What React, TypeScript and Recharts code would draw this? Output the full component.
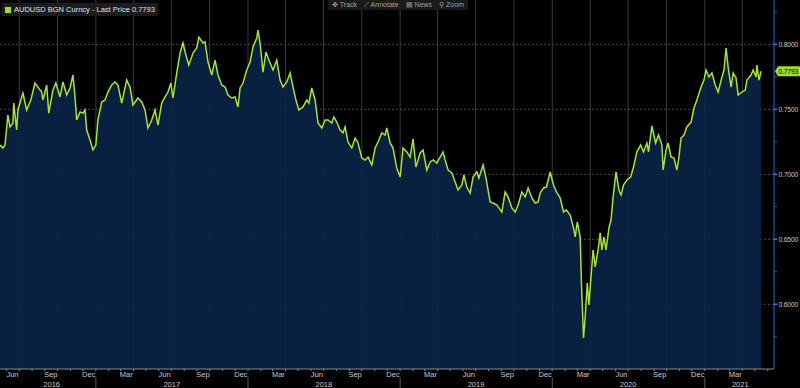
import { AreaChart, Area, XAxis, YAxis, CartesianGrid } from 'recharts';

// AUDUSD BGN Curncy, last price (month-day, price) by year
const P2016: [string, number][] = [
  ['05-16', 0.7225], ['05-23', 0.7202], ['05-28', 0.7225], ['06-04', 0.7456], ['06-09', 0.7364],
  ['06-16', 0.7395], ['06-18', 0.7548], ['06-25', 0.7341], ['06-28', 0.7495], ['07-07', 0.7595],
  ['07-10', 0.7625], ['07-19', 0.7495], ['07-29', 0.7572], ['08-08', 0.7702], ['08-15', 0.7671],
  ['08-24', 0.7633], ['08-27', 0.7572], ['09-05', 0.7687], ['09-10', 0.7471], ['09-20', 0.7648],
  ['09-27', 0.7702], ['10-07', 0.7595], ['10-14', 0.7710], ['10-23', 0.7610], ['10-31', 0.7664],
  ['11-07', 0.7764], ['11-12', 0.7595], ['11-16', 0.7418], ['11-24', 0.7479], ['12-01', 0.7471],
  ['12-06', 0.7495], ['12-10', 0.7341], ['12-18', 0.7264], ['12-25', 0.7187],
];
const P2017: [string, number][] = [
  ['01-01', 0.7225], ['01-06', 0.7418], ['01-15', 0.7556], ['01-23', 0.7572], ['01-30', 0.7633],
  ['02-08', 0.7687], ['02-16', 0.7710], ['02-23', 0.7687], ['03-04', 0.7548], ['03-16', 0.7725],
  ['03-24', 0.7671], ['03-31', 0.7533], ['04-12', 0.7587], ['04-21', 0.7556], ['04-29', 0.7495],
  ['05-06', 0.7356], ['05-15', 0.7418], ['05-23', 0.7495], ['05-30', 0.7379], ['06-08', 0.7548],
  ['06-16', 0.7595], ['06-23', 0.7633], ['06-30', 0.7702], ['07-05', 0.7587], ['07-14', 0.7779],
  ['07-22', 0.7933], ['07-29', 0.8010], ['08-05', 0.7918], ['08-12', 0.7841], ['08-22', 0.7933],
  ['08-31', 0.7972], ['09-05', 0.8056], ['09-15', 0.8010], ['09-20', 0.8018], ['09-27', 0.7864],
  ['10-06', 0.7764], ['10-14', 0.7879], ['10-21', 0.7764], ['10-30', 0.7687], ['11-07', 0.7671],
  ['11-14', 0.7610], ['11-23', 0.7587], ['12-01', 0.7595], ['12-08', 0.7518], ['12-13', 0.7664],
  ['12-20', 0.7702], ['12-29', 0.7802],
];
const P2018: [string, number][] = [
  ['01-06', 0.7864], ['01-13', 0.7979], ['01-22', 0.8049], ['01-25', 0.8110], ['01-30', 0.8010],
  ['02-06', 0.7786], ['02-13', 0.7941], ['02-20', 0.7879], ['03-02', 0.7802], ['03-11', 0.7879],
  ['03-19', 0.7725], ['03-26', 0.7671], ['04-04', 0.7710], ['04-12', 0.7779], ['04-19', 0.7671],
  ['04-26', 0.7572], ['05-03', 0.7495], ['05-13', 0.7518], ['05-22', 0.7572], ['05-27', 0.7548],
  ['06-03', 0.7664], ['06-11', 0.7572], ['06-18', 0.7395], ['06-27', 0.7356], ['07-05', 0.7418],
  ['07-12', 0.7418], ['07-21', 0.7395], ['07-26', 0.7441], ['08-02', 0.7402], ['08-10', 0.7341],
  ['08-17', 0.7318], ['08-22', 0.7364], ['08-29', 0.7248], ['09-07', 0.7202], ['09-15', 0.7279],
  ['09-22', 0.7241], ['10-01', 0.7125], ['10-09', 0.7110], ['10-16', 0.7133], ['10-25', 0.7072],
  ['11-02', 0.7202], ['11-09', 0.7248], ['11-18', 0.7318], ['11-26', 0.7302], ['11-30', 0.7356],
  ['12-08', 0.7241], ['12-15', 0.7202], ['12-24', 0.7048],
];
const P2019: [string, number][] = [
  ['01-01', 0.6979], ['01-08', 0.7202], ['01-17', 0.7172], ['01-25', 0.7133], ['02-01', 0.7272],
  ['02-08', 0.7056], ['02-18', 0.7164], ['02-25', 0.7187], ['03-06', 0.7033], ['03-14', 0.7095],
  ['03-21', 0.7110], ['03-30', 0.7087], ['04-07', 0.7133], ['04-14', 0.7172], ['04-19', 0.7110],
  ['04-26', 0.7033], ['05-05', 0.7010], ['05-13', 0.6941], ['05-20', 0.6879], ['05-29', 0.6918],
  ['06-03', 0.6995], ['06-10', 0.6902], ['06-18', 0.6856], ['06-25', 0.6979], ['07-04', 0.7018],
  ['07-09', 0.6971], ['07-19', 0.7072], ['07-26', 0.6971], ['08-05', 0.6787], ['08-12', 0.6779],
  ['08-21', 0.6764], ['09-02', 0.6710], ['09-10', 0.6864], ['09-17', 0.6826], ['09-26', 0.6741],
  ['10-04', 0.6710], ['10-11', 0.6764], ['10-20', 0.6864], ['10-28', 0.6826], ['11-04', 0.6895],
  ['11-13', 0.6818], ['11-21', 0.6779], ['11-28', 0.6787], ['12-03', 0.6856], ['12-11', 0.6895],
  ['12-18', 0.6902], ['12-27', 0.7018],
];
const P2020: [string, number][] = [
  ['01-04', 0.6918], ['01-11', 0.6864], ['01-20', 0.6818], ['01-28', 0.6710], ['02-04', 0.6725],
  ['02-13', 0.6687], ['02-21', 0.6587], ['02-25', 0.6518], ['03-01', 0.6633], ['03-08', 0.6518],
  ['03-11', 0.6164], ['03-16', 0.5741], ['03-20', 0.5902], ['03-25', 0.6164], ['03-29', 0.5995],
  ['04-03', 0.6210], ['04-08', 0.6418], ['04-13', 0.6287], ['04-20', 0.6418], ['04-25', 0.6549],
  ['04-29', 0.6418], ['05-04', 0.6518], ['05-09', 0.6418], ['05-16', 0.6587], ['05-21', 0.6648],
  ['05-26', 0.6826], ['06-02', 0.7018], ['06-09', 0.6879], ['06-14', 0.6841], ['06-20', 0.6918],
  ['06-28', 0.6956], ['07-07', 0.6979], ['07-14', 0.7056], ['07-22', 0.7172], ['07-31', 0.7225],
  ['08-07', 0.7172], ['08-15', 0.7241], ['08-19', 0.7172], ['08-27', 0.7372], ['09-05', 0.7241],
  ['09-12', 0.7302], ['09-20', 0.7225], ['09-23', 0.7033], ['09-30', 0.7187], ['10-05', 0.7241],
  ['10-12', 0.7133], ['10-19', 0.7125], ['10-26', 0.7033], ['10-31', 0.7133], ['11-05', 0.7279],
  ['11-12', 0.7302], ['11-19', 0.7364], ['11-29', 0.7402], ['12-06', 0.7510], ['12-13', 0.7572],
  ['12-23', 0.7671], ['12-30', 0.7725],
];
const P2021: [string, number][] = [
  ['01-04', 0.7802], ['01-11', 0.7748], ['01-18', 0.7779], ['01-26', 0.7687], ['02-02', 0.7633],
  ['02-11', 0.7748], ['02-16', 0.7802], ['02-21', 0.7972], ['02-26', 0.7825], ['03-05', 0.7671],
  ['03-10', 0.7779], ['03-17', 0.7741], ['03-22', 0.7610], ['03-31', 0.7633], ['04-08', 0.7648],
  ['04-12', 0.7725], ['04-22', 0.7764], ['04-27', 0.7802], ['05-04', 0.7748], ['05-06', 0.7841],
  ['05-11', 0.7725], ['05-16', 0.7793],
];
const YEARS: [number, [string, number][]][] = [
  [2016, P2016], [2017, P2017], [2018, P2018], [2019, P2019], [2020, P2020], [2021, P2021],
];

const LAST_PRICE = 0.7793;
const X_RANGE = ['2016-05-16', '2021-06-16'];
const Y_RANGE = [0.5502, 0.8341];
const Y_TICKS = [0.575, 0.6, 0.625, 0.65, 0.675, 0.7, 0.725, 0.75, 0.775, 0.8, 0.825];
const Y_LABELED = [0.6, 0.65, 0.7, 0.75, 0.8];
const MONTH_NAMES = ['Jan', 'Feb', 'Mar', 'Apr', 'May', 'Jun', 'Jul', 'Aug', 'Sep', 'Oct', 'Nov', 'Dec'];
const QUARTER_LABELS = [
  '2016-06-15', '2016-09-15', '2016-12-15', '2017-03-15', '2017-06-15', '2017-09-15', '2017-12-15',
  '2018-03-15', '2018-06-15', '2018-09-15', '2018-12-15', '2019-03-15', '2019-06-15', '2019-09-15',
  '2019-12-15', '2020-03-15', '2020-06-15', '2020-09-15', '2020-12-15', '2021-03-15',
];
const GRID_DATES = [
  '2016-07-01', '2016-10-01', '2017-01-01', '2017-04-01', '2017-07-01', '2017-10-01', '2018-01-01',
  '2018-04-01', '2018-07-01', '2018-10-01', '2019-01-01', '2019-04-01', '2019-07-01', '2019-10-01',
  '2020-01-01', '2020-04-01', '2020-07-01', '2020-10-01', '2021-01-01', '2021-04-01',
];
const YEAR_LABELS: [string, string][] = [
  ['2016', '2016-09-17'], ['2017', '2017-07-02'], ['2018', '2018-07-02'],
  ['2019', '2019-07-02'], ['2020', '2020-07-01'], ['2021', '2021-03-27'],
];
const YEAR_BREAKS = ['2017-01-01', '2018-01-01', '2019-01-01', '2020-01-01', '2021-01-01'];

const ts = (s: string) => Date.parse(s);
const FONT = "'Liberation Sans', Arial, sans-serif";

const data = YEARS.flatMap(([yr, pts]) => pts.map(([md, v]) => ({ t: ts(`${yr}-${md}`), price: v })));

// monthly tick marks along the date axis
const MONTH_STARTS: number[] = [];
for (let y = 2016, m = 5; y < 2021 || (y === 2021 && m <= 5); m = m === 11 ? 0 : m + 1, y = m === 0 ? y + 1 : y) {
  MONTH_STARTS.push(Date.UTC(y, m, 1));
}
const monthTicks = [...MONTH_STARTS, ...QUARTER_LABELS.map(ts)].sort((a, b) => a - b);
const yearBreakTs = YEAR_BREAKS.map(ts);
const yearTicks = [...yearBreakTs, ...YEAR_LABELS.map(([, d]) => ts(d))].sort((a, b) => a - b);

function MonthTick({ x, y, payload }: any) {
  const d = new Date(payload.value);
  if (d.getUTCDate() === 1) {
    return <line x1={x} x2={x} y1={y} y2={y + 2} stroke="#8a8a8a" />;
  }
  return (
    <text x={x} y={y + 8} textAnchor="middle" fill="#c8c8c8" fontSize={7.5} fontFamily={FONT}>
      {MONTH_NAMES[d.getUTCMonth()]}
    </text>
  );
}

function YearTick({ x, y, payload }: any) {
  if (yearBreakTs.includes(payload.value)) {
    return <line x1={x} x2={x} y1={y - 2} y2={y + 10} stroke="#5a5a5a" />;
  }
  const lbl = YEAR_LABELS.find(([, d]) => ts(d) === payload.value);
  return (
    <text x={x} y={y + 7.5} textAnchor="middle" fill="#c8c8c8" fontSize={7.5} fontFamily={FONT}>
      {lbl ? lbl[0] : ''}
    </text>
  );
}

function PriceTick({ x, y, payload }: any) {
  const v = payload.value;
  if (v === LAST_PRICE) {
    return (
      <g>
        <path d={`M${x + 1},${y} L${x + 4},${y - 5} H800 V${y + 5} H${x + 4} Z`} fill="#9fdc35" />
        <text x={x + 4.5} y={y + 2.6} fill="#000" fontSize={6.8} letterSpacing={-0.2} fontFamily={FONT}>{v.toFixed(4)}</text>
      </g>
    );
  }
  if (Y_LABELED.includes(v)) {
    return (
      <g>
        <line x1={x} x2={x + 3} y1={y} y2={y} stroke="#3a7ae0" strokeWidth={1.5} />
        <text x={x + 4.5} y={y + 2.6} fill="#c8c8c8" fontSize={6.8} letterSpacing={-0.2} fontFamily={FONT}>{v.toFixed(4)}</text>
      </g>
    );
  }
  return <line x1={x} x2={x + 3} y1={y} y2={y} stroke="#2a5ab0" />;
}

const badge = { display: 'inline-flex', alignItems: 'center', gap: 3 } as const;

export default function App() {
  return (
    <div style={{ position: 'absolute', left: 0, top: 0, width: 800, height: 388, background: '#000', overflow: 'hidden', fontFamily: FONT }}>
      <AreaChart width={800} height={388} data={data} margin={{ top: 0, right: 0, bottom: 0, left: 0 }}>
        <CartesianGrid horizontal={false} verticalValues={GRID_DATES.map(ts)} stroke="#3a3a3a" />
        <CartesianGrid vertical={false} horizontalValues={Y_LABELED} stroke="#4a4a4a" strokeDasharray="2 2" />
        <XAxis
          dataKey="t" type="number" domain={X_RANGE.map(ts)} allowDataOverflow
          ticks={monthTicks} interval={0} tick={(p: any) => <MonthTick {...p} />}
          tickLine={false} tickSize={0} tickMargin={0} height={10}
          axisLine={{ stroke: '#8a8a8a' }}
        />
        <XAxis
          xAxisId="yr" dataKey="t" type="number" domain={X_RANGE.map(ts)} allowDataOverflow
          ticks={yearTicks} interval={0} tick={(p: any) => <YearTick {...p} />}
          tickLine={false} tickSize={0} tickMargin={0} height={9} axisLine={false}
        />
        <YAxis
          orientation="right" width={26} type="number" domain={Y_RANGE} allowDataOverflow
          ticks={[...Y_TICKS, LAST_PRICE]} interval={0} tick={(p: any) => <PriceTick {...p} />}
          tickLine={false} tickSize={0} tickMargin={0}
          axisLine={{ stroke: '#2f68c8' }}
        />
        <Area
          dataKey="price" type="linear" stroke="#a6e23a" strokeWidth={1.5}
          fill="#0a2447" fillOpacity={0.9} dot={false} activeDot={false}
          isAnimationActive={false}
        />
      </AreaChart>

      {/* legend box */}
      <div style={{ position: 'absolute', left: 2, top: 3, background: '#1c1c1c', padding: '2px 3px', fontSize: 7.5, color: '#e0e0e0', ...badge }}>
        <span style={{ width: 6, height: 6, background: '#9fdc35', display: 'inline-block' }} />
        <span>AUDUSD BGN Curncy - Last Price 0.7793</span>
      </div>

      {/* toolbar */}
      <div style={{ position: 'absolute', left: 328, top: 0, height: 10, background: '#1a1a1a', display: 'flex', gap: 7, padding: '0 4px', fontSize: 7, color: '#a0a0a0', lineHeight: '10px' }}>
        <span>✥ Track</span>
        <span>⟋ Annotate</span>
        <span>▤ News</span>
        <span>⚲ Zoom</span>
      </div>
    </div>
  );
}
